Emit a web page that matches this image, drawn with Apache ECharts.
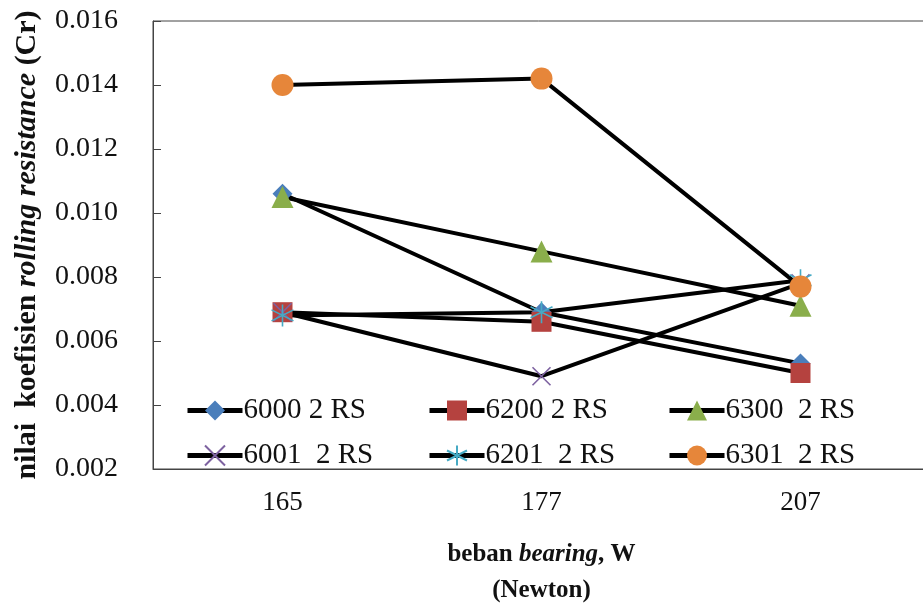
<!DOCTYPE html>
<html>
<head>
<meta charset="utf-8">
<script src="https://cdn.jsdelivr.net/npm/echarts@6/dist/echarts.min.js"></script>
<style>html,body{margin:0;padding:0;background:#fff}#c{width:923px;height:606px}</style>
</head>
<body>
<div id="c"></div>
<script>
const categories = ['165', '177', '207'];
const seriesNames = ['6000 2 RS', '6200 2 RS', '6300  2 RS', '6001  2 RS', '6201  2 RS', '6301  2 RS'];
const s6000 = [0.0106, 0.0069, 0.0053];
const s6200 = [0.0069, 0.0066, 0.0050];
const s6300 = [0.0105, 0.0088, 0.0071];
const s6001 = [0.0069, 0.0049, 0.0078];
const s6201 = [0.0068, 0.0069, 0.0079];
const s6301 = [0.0140, 0.0142, 0.0077];
const yTicks = [0.002, 0.016, 0.002]; // min, max, interval

const FONT = '"Liberation Serif", "Times New Roman", serif';
const xPath = 'path://M0,0 L10,10 M10,0 L0,10';
const starPath = 'path://M5,0 L5,10 M0.7,2.5 L9.3,7.5 M9.3,2.5 L0.7,7.5';

function mk(name, data, symbol, size, color, stroke) {
  return {
    name: name, type: 'line', data: data,
    symbol: symbol, symbolSize: size,
    lineStyle: { color: '#000', width: 4 },
    itemStyle: stroke ? { color: 'rgba(0,0,0,0)', borderColor: color, borderWidth: 1.6 } : { color: color },
    emphasis: { disabled: true },
    z: 2
  };
}

const chart = echarts.init(document.getElementById('c'), null, { renderer: 'canvas' });
const legendBase = {
  orient: 'vertical', itemWidth: 55, itemHeight: 25, itemGap: 16,
  lineStyle: { width: 5, color: '#000' },
  textStyle: { fontFamily: FONT, fontSize: 29, color: '#111', lineHeight: 27, padding: [0, 0, 0, -4] },
  padding: 0
};
chart.setOption({
  backgroundColor: '#ffffff',
  animation: false,
  grid: { left: 153, top: 21, width: 777, height: 448, show: true, borderColor: '#444', borderWidth: 1, containLabel: false, outerBoundsMode: 'none' },
  legend: [
    Object.assign({}, legendBase, { left: 185, top: 396, data: [seriesNames[0], seriesNames[3]] }),
    Object.assign({}, legendBase, { left: 427, top: 396, data: [seriesNames[1], seriesNames[4]] }),
    Object.assign({}, legendBase, { left: 667, top: 396, data: [seriesNames[2], seriesNames[5]] })
  ],
  xAxis: {
    type: 'category', data: categories, boundaryGap: true,
    axisLine: { lineStyle: { color: '#444', width: 1 } },
    axisTick: { inside: true, length: 7, lineStyle: { color: '#444' } },
    axisLabel: { fontFamily: FONT, fontSize: 27, color: '#111', margin: 20 },
    name: '{b|beban }{bi|bearing}{b|, W}\n{b|(Newton)}',
    nameLocation: 'middle', nameGap: 68,
    nameTextStyle: {
      lineHeight: 36,
      rich: {
        b: { fontFamily: FONT, fontSize: 25, fontWeight: 'bold', color: '#111', lineHeight: 36 },
        bi: { fontFamily: FONT, fontSize: 25, fontWeight: 'bold', fontStyle: 'italic', color: '#111', lineHeight: 36 }
      }
    }
  },
  yAxis: {
    type: 'value', min: yTicks[0], max: yTicks[1], interval: yTicks[2],
    axisLine: { show: true, lineStyle: { color: '#444', width: 1 } },
    axisTick: { show: true, inside: true, length: 8, lineStyle: { color: '#444' } },
    splitLine: { show: false },
    axisLabel: { fontFamily: FONT, fontSize: 28, color: '#111', margin: 35, formatter: v => v.toFixed(3) },
    name: '{b|nilai  koefisien }{bi|rolling resistance}{b| (Cr)}',
    nameLocation: 'middle', nameRotate: 90, nameGap: 111,
    nameTextStyle: {
      rich: {
        b: { fontFamily: FONT, fontSize: 30, fontWeight: 'bold', color: '#111' },
        bi: { fontFamily: FONT, fontSize: 30, fontWeight: 'bold', fontStyle: 'italic', color: '#111' }
      }
    }
  },
  series: [
    mk(seriesNames[0], s6000, 'diamond', 20, '#4a7ebb'),
    mk(seriesNames[1], s6200, 'rect', 20, '#b5423f'),
    mk(seriesNames[2], s6300, 'triangle', 22, '#8aae4b'),
    mk(seriesNames[3], s6001, xPath, 18, '#7d62a0', true),
    mk(seriesNames[4], s6201, starPath, 22, '#46aac4', true),
    mk(seriesNames[5], s6301, 'circle', 22, '#e6863a')
  ]
});
</script>
</body>
</html>
